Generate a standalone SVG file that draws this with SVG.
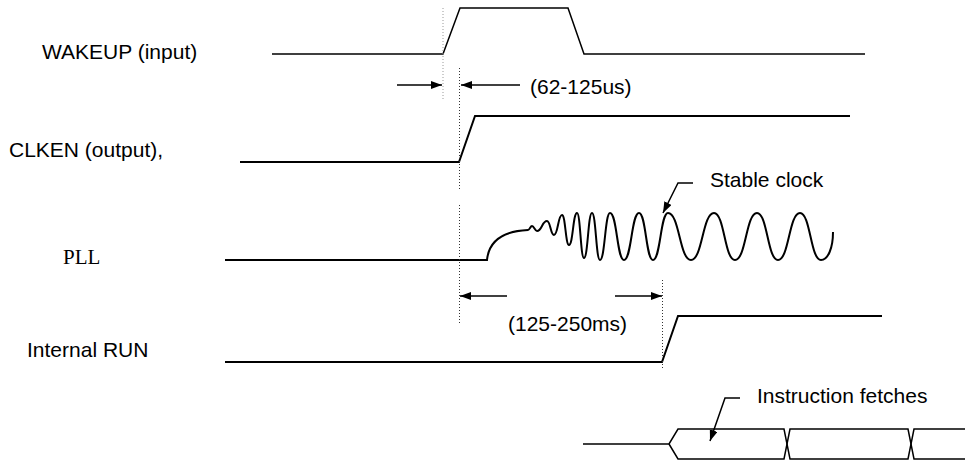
<svg xmlns="http://www.w3.org/2000/svg" width="965" height="461" viewBox="0 0 965 461">
<style>
.t{font-family:"Liberation Sans",Arial,sans-serif;font-size:21px;fill:#000}
.ts{font-family:"Liberation Serif","Times New Roman",serif;font-size:21px;fill:#000}
.w{fill:none;stroke:#000;stroke-width:2;stroke-linejoin:miter}
.w1{fill:none;stroke:#000;stroke-width:1.5}
.ar{fill:none;stroke:#000;stroke-width:1.5}
.dot{fill:none;stroke:#333;stroke-width:1;stroke-dasharray:1,2}
.dotg{fill:none;stroke:#999;stroke-width:1;stroke-dasharray:1,2}
</style>
<defs>
<marker id="ah" markerUnits="userSpaceOnUse" markerWidth="12" markerHeight="9" refX="11" refY="4" orient="auto">
<path d="M0,0 L11,4 L0,8 z" fill="#000"/>
</marker>
</defs>
<rect width="965" height="461" fill="#fff"/>

<g id="wakeup">
<text class="t" x="42" y="59">WAKEUP (input)</text>
<path class="w1" d="M272,54 H443 L460,8 H568 L584,54 H865"/>
</g>

<g id="clken">
<text class="t" x="9" y="157">CLKEN (output),</text>
<path class="w" d="M240,162 H459 L475,116 H850"/>
</g>

<g id="pll">
<text class="ts" x="63" y="264">PLL</text>
<path class="w" d="M225,260 H487 C489,240 505,231 528,230
C529.6,230 530.4,226 532,226
C534,226 535,231 537,231
C542,231 542,221 547,221
C550.5,221 550.5,235 554,235
C558,235 558,215 562,215
C565.5,215 565.5,245 569,245
C573,245 573,213 577,213
C580.5,213 580.5,258 584,258
C588,258 588,213 592,213
C596,213 596,260 600,260
C605,260 605,213 610,213
C617,213 617,260 624,260
C631.5,260 631.5,213 639,213
C646,213 646,260 653,260
C660.5,260 660.5,213 668,213
C679.5,213 679.5,260 691,260
C702.5,260 702.5,213 714,213
C724.5,213 724.5,260 735,260
C746,260 746,213 757,213
C767.5,213 767.5,260 778,260
C789,260 789,213 800,213
C810.5,213 810.5,260 821,260
C828,260 833,248 833,232"/>
<text class="t" x="710" y="187">Stable clock</text>
</g>

<g id="internal-run">
<text class="t" x="27" y="357">Internal RUN</text>
<path class="w" d="M225,362 H662 L678,316 H882"/>
</g>

<g id="instruction-fetches">
<text class="t" x="757" y="403">Instruction fetches</text>
<path class="w1" d="M583,444 H669 L678,429 H784 L790,459 H908 L914,429 H965"/>
<path class="w1" d="M669,444 L678,459 H784 L790,429 H908 L914,459 H965"/>
</g>

<g id="connectors">
<line class="dotg" x1="443" y1="8" x2="443" y2="100"/>
<line class="dot" x1="459.5" y1="68" x2="459.5" y2="190"/>
<line class="dot" x1="459.5" y1="205" x2="459.5" y2="325"/>
<line class="dot" x1="662.5" y1="280" x2="662.5" y2="370"/>
<line class="ar" x1="397" y1="85" x2="442" y2="85" marker-end="url(#ah)"/>
<line class="ar" x1="520" y1="85" x2="461" y2="85" marker-end="url(#ah)"/>
<text class="t" x="530" y="94">(62-125us)</text>
<line class="ar" x1="507" y1="296" x2="460" y2="296" marker-end="url(#ah)"/>
<line class="ar" x1="615" y1="296" x2="662" y2="296" marker-end="url(#ah)"/>
<text class="t" x="508" y="331">(125-250ms)</text>
<path class="ar" d="M693,183 H678 L663,213" marker-end="url(#ah)"/>
<path class="ar" d="M740,398 H725 L710,441" marker-end="url(#ah)"/>
</g>
</svg>
